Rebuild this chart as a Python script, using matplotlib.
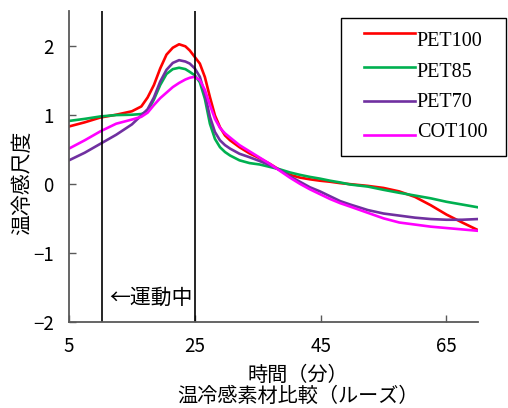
import numpy as np
import matplotlib
matplotlib.use("Agg")
import matplotlib.pyplot as plt
from matplotlib.legend_handler import HandlerLine2D
from matplotlib.lines import Line2D

plt.rcParams['font.family'] = ['Noto Sans CJK JP', 'DejaVu Sans']

# time axis (minutes) shared by all four materials
minutes = [5, 7.5, 10, 12.5, 15, 16.5, 17.5, 18.5, 19.5, 20.5, 21.5, 22.5, 23.5,
           24.2, 25, 25.8, 26.6, 27.4, 28.2, 29, 29.8, 30.6, 32.1, 33.7, 35.3,
           36.9, 38.5, 40.1, 41.7, 43.3, 44.9, 46.5, 48.1, 49.7, 52.5, 55, 57.5,
           60, 62.5, 65, 67.5, 70]

pet100 = [0.83, 0.89, 0.96, 1.00, 1.05, 1.12, 1.25, 1.43, 1.67, 1.87, 1.97, 2.02, 1.99,
          1.93, 1.835, 1.74, 1.545, 1.256, 0.99, 0.82, 0.70, 0.63, 0.53, 0.44, 0.37,
          0.29, 0.20, 0.13, 0.09, 0.065, 0.045, 0.03, 0.01, -0.005, -0.03, -0.06, -0.11,
          -0.19, -0.31, -0.445, -0.56, -0.67]
pet85 = [0.91, 0.94, 0.975, 0.995, 1.0, 1.01, 1.05, 1.22, 1.43, 1.59, 1.66, 1.68, 1.66,
         1.62, 1.57, 1.47, 1.23, 0.87, 0.65, 0.53, 0.46, 0.41, 0.34, 0.30, 0.28,
         0.245, 0.21, 0.165, 0.13, 0.10, 0.075, 0.045, 0.02, -0.01, -0.04, -0.087, -0.13,
         -0.17, -0.21, -0.26, -0.30, -0.34]
pet70 = [0.34, 0.45, 0.58, 0.71, 0.86, 0.99, 1.08, 1.25, 1.48, 1.65, 1.75, 1.79, 1.77,
         1.74, 1.67, 1.55, 1.30, 0.97, 0.75, 0.63, 0.56, 0.51, 0.435, 0.385, 0.33,
         0.27, 0.20, 0.11, 0.03, -0.05, -0.11, -0.18, -0.25, -0.30, -0.38, -0.43, -0.46,
         -0.49, -0.51, -0.52, -0.52, -0.51]
cot100 = [0.51, 0.63, 0.76, 0.87, 0.93, 0.97, 1.03, 1.14, 1.24, 1.32, 1.40, 1.46, 1.51,
          1.535, 1.55, 1.50, 1.36, 1.14, 0.94, 0.81, 0.73, 0.67, 0.56, 0.47, 0.38,
          0.29, 0.19, 0.09, 0.0, -0.08, -0.15, -0.22, -0.28, -0.33, -0.42, -0.50, -0.56,
          -0.59, -0.62, -0.64, -0.66, -0.68]

names = ['PET100', 'PET85', 'PET70', 'COT100']
colors = ['#ff0000', '#00b050', '#7030a0', '#ff00ff']

# exercise period boundaries (minutes)
exercise = [10.2, 25]

xticks = [5, 25, 45, 65]
yticks = [-2, -1, 0, 1, 2]


class ShiftedLine(HandlerLine2D):
    # legend sample indented and moved up/down by a fixed number of points
    def __init__(self, rise, indent, **kw):
        super().__init__(**kw)
        self.rise = rise
        self.indent = indent

    def create_artists(self, legend, orig_handle, xdescent, ydescent,
                       width, height, fontsize, trans):
        arts = super().create_artists(legend, orig_handle, xdescent, ydescent,
                                      width, height, fontsize, trans)
        for a in arts:
            if isinstance(a, Line2D):
                xd = np.asarray(a.get_xdata(), dtype=float).copy()
                xd[0] += self.indent
                a.set_xdata(xd)
                a.set_ydata(np.asarray(a.get_ydata(), dtype=float) + self.rise)
        return arts


fig = plt.figure(figsize=(5.08, 4.08), dpi=100)
ax = fig.add_axes([0.1358, 0.2108, 0.805, 0.762])

lines = []
for ys, name, c in zip([pet100, pet85, pet70, cot100], names, colors):
    ln, = ax.plot(minutes, ys, color=c, lw=1.9, label=name,
                  solid_joinstyle='round')
    lines.append(ln)

for x in exercise:
    ax.axvline(x, color='black', lw=1.2)

ax.text(11.4, -1.65, '←運動中', fontsize=15, va='center', ha='left')

ax.set_xlim(5, 70)
ax.set_ylim(-2, 2.5)
ax.set_xticks(xticks)
ax.set_yticks(yticks)
ax.tick_params(direction='in', length=5, width=1, color='#595959',
               labelsize=13.5, labelcolor='black')
ax.tick_params(axis='y', pad=11)
ax.tick_params(axis='x', pad=10)
for s in ['top', 'right']:
    ax.spines[s].set_visible(False)
for s in ['left', 'bottom']:
    ax.spines[s].set_color('#595959')
    ax.spines[s].set_linewidth(1.3)

ax.set_xlabel('時間（分）\n温冷感素材比較（ルーズ）', fontsize=14.5, linespacing=1.0,
              va='center')
ax.xaxis.set_label_coords(0.560, -0.205)
ax.set_ylabel('温冷感尺度', fontsize=15, va='center')
ax.yaxis.set_label_coords(-0.115, 0.447)

# legend samples are spaced a little wider than the labels
hmap = {ln: ShiftedLine(rise=4.6 - 2.6 * i, indent=7.2) for i, ln in enumerate(lines)}
leg = ax.legend(loc='upper left', bbox_to_anchor=(0.6707, 0.628, 0.325, 0.327),
                bbox_transform=fig.transFigure, mode='expand', borderaxespad=0,
                prop={'family': 'Liberation Serif', 'size': 14.5},
                handlelength=3.0, handletextpad=0.1, labelspacing=0.56,
                borderpad=0.68, fancybox=False, framealpha=1,
                handler_map=hmap)
leg.get_frame().set_edgecolor('black')
leg.get_frame().set_linewidth(1.0)

fig.savefig('out.png', dpi=100)
